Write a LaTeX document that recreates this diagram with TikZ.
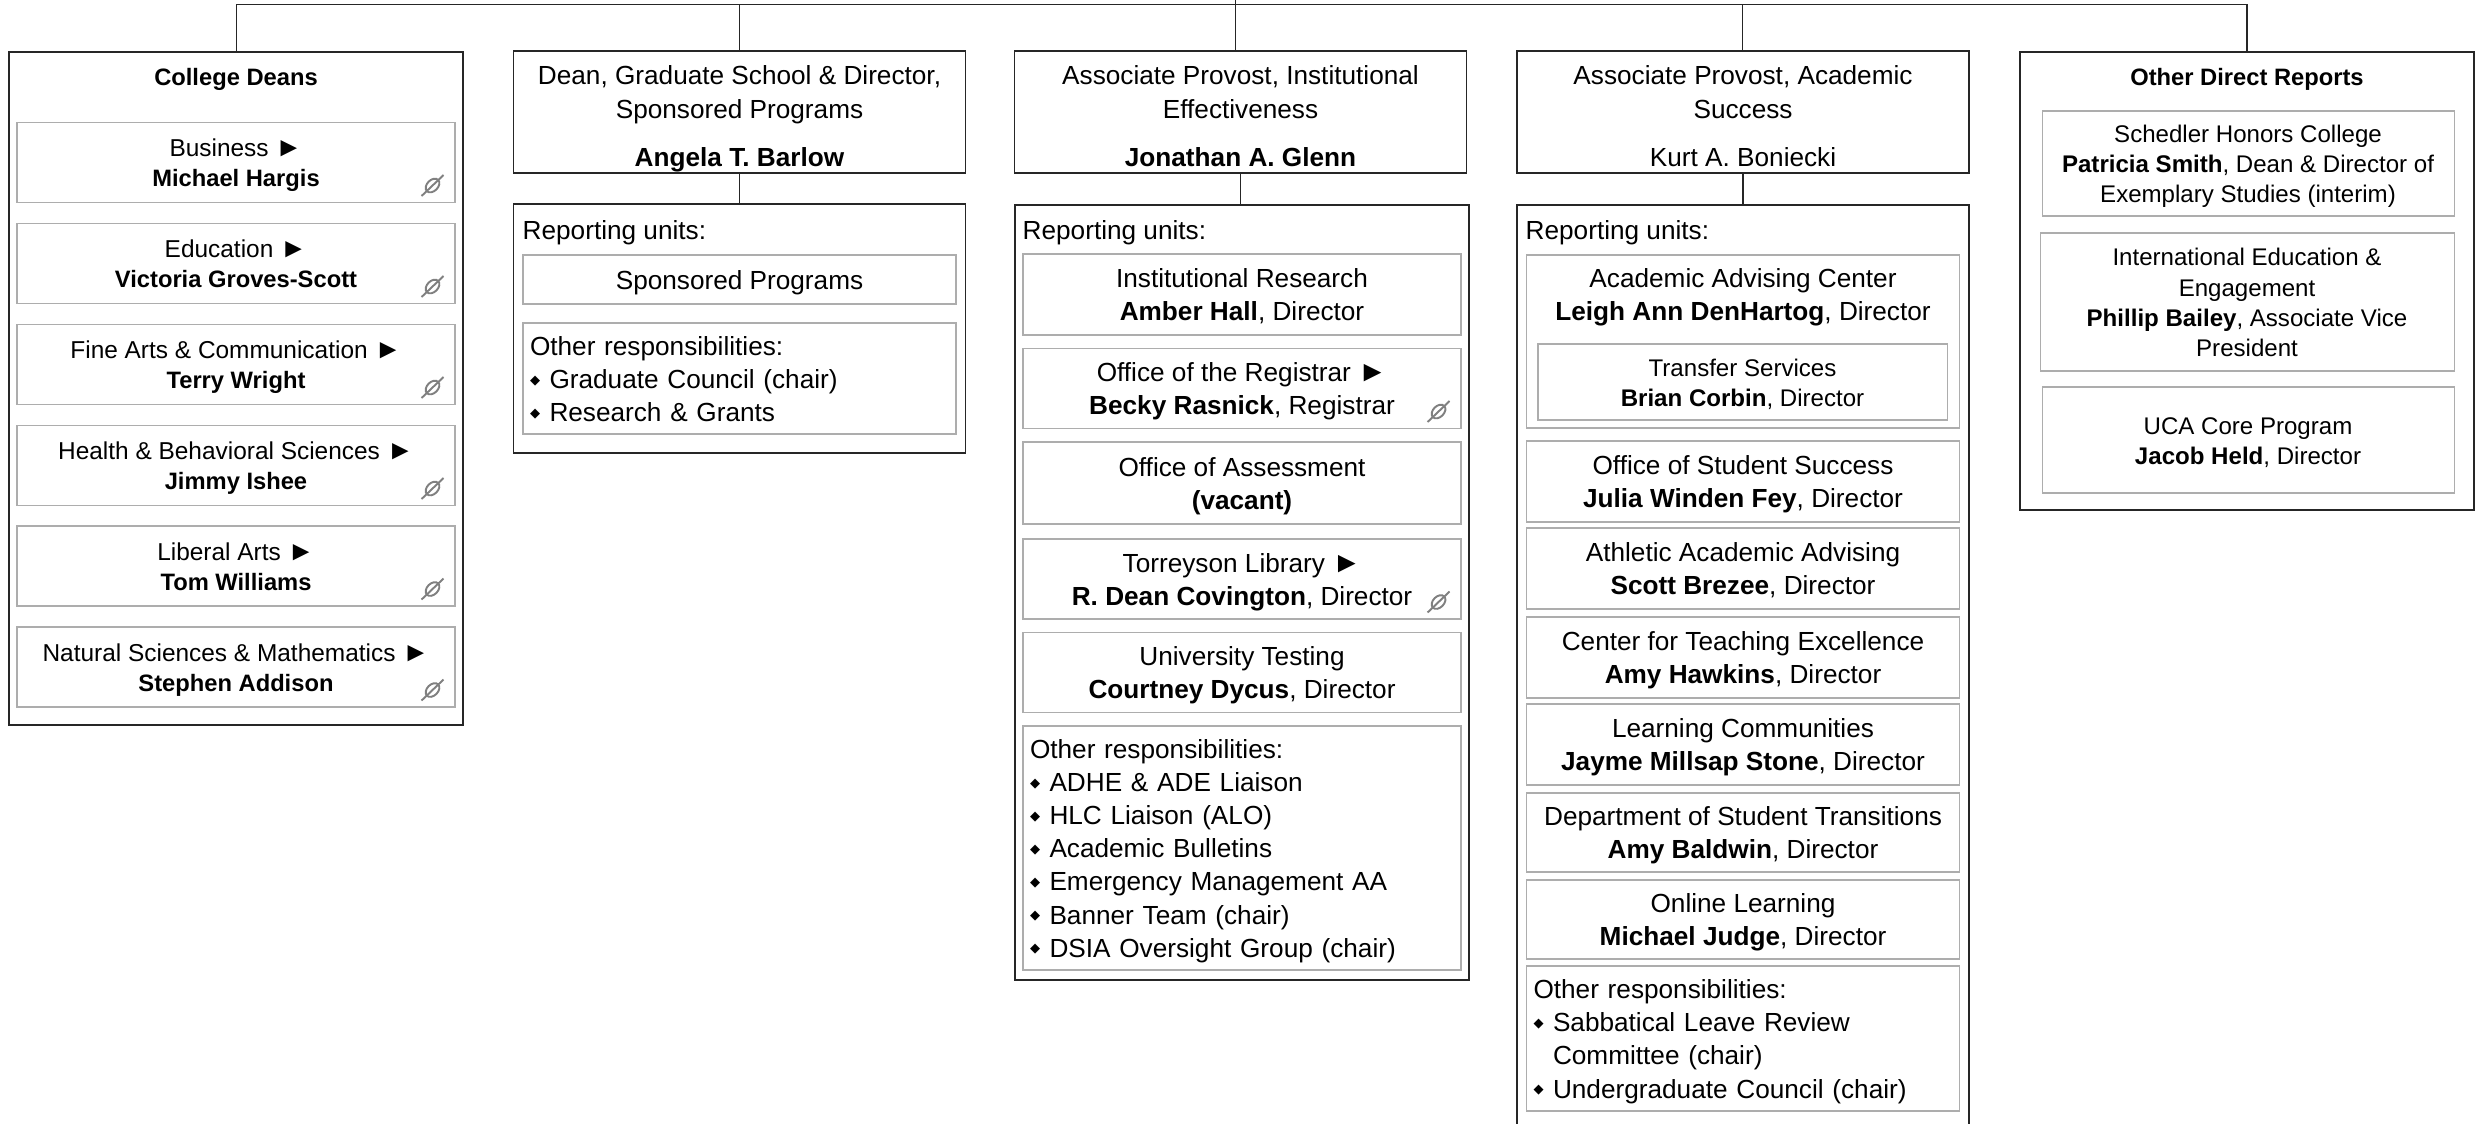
\documentclass[tikz,border=0pt]{standalone}
\usepackage{fontspec}
\setmainfont{Liberation Sans}
\newfontfamily\symfont{DejaVu Sans}
\usepackage{tikz}
\usetikzlibrary{positioning,calc}

\newcommand{\arr}{\scalebox{1.12}{►}}
\newcommand{\dia}{\raisebox{.17em}{\symfont\scalebox{0.5}{◆}}\hspace{0.36em}}
\newcommand{\fsA}{\fontsize{7.45}{9.4}\selectfont}
\newcommand{\fsB}{\fontsize{6.95}{8.5}\selectfont}
\newcommand{\fsC}{\fontsize{6.85}{8.6}\selectfont}
\newcommand{\deanname}[1]{{\fontsize{6.75}{8.5}\selectfont\bfseries #1}}

\tikzset{
    outerbox/.style={draw=black!85, line width=0.4pt, inner sep=0pt},
    textpad/.style={execute at begin node={\rule{0pt}{1em}}, execute at end node={\rule[-.24em]{0pt}{.24em}}},
    headbox/.style={outerbox, align=flush center, font=\fsA, text width=4.4cm, minimum width=4.52cm, minimum height=1.2cm,
        execute at begin node={\rule{0pt}{1.3em}}, execute at end node={\rule[-.25em]{0pt}{.25em}}},
    unitbox/.style={draw=black!32, line width=0.3pt, inner sep=0pt, align=flush center, font=\fsA, text width=4.05cm, textpad},
    deanbox/.style={unitbox, font=\fsB, minimum width=4.38cm, minimum height=.8cm},
    listbox/.style={unitbox, align=left, font=\fsA},
    caption/.style={inner sep=0pt, font=\fsA},
    linkicon/.pic={
        \draw[black!50, line width=0.55pt, rotate=45] (0,0) ellipse (0.08 and 0.055);
        \draw[black!50, line width=0.55pt] (-0.11,-0.105) -- (0.11,0.105);
    }
}

\begin{document}
\begin{tikzpicture}
    \useasboundingbox (0,0) rectangle (24.86,-11.23);

    % Top bus
    \coordinate (top) at (12.355,0);
    \coordinate (busA) at (2.365,-0.045);
    \coordinate (busB) at (7.395,-0.045);
    \coordinate (busC) at (12.355,-0.045);
    \coordinate (busD) at (17.425,-0.045);
    \coordinate (busE) at (22.47,-0.045);

    % College deans
    \node[outerbox, minimum width=4.54cm, minimum height=6.73cm] (deans) at (2.36,-3.885) {};
    \node[inner sep=0pt, font=\fontsize{6.75}{8.5}\selectfont\bfseries] (deanstitle) at (2.36,-0.79) {College Deans};
    \node[deanbox] (business) at (2.36,-1.625) {Business \arr\\\deanname{Michael Hargis}};
    \node[deanbox] (education) at (2.36,-2.635) {Education \arr\\\deanname{Victoria Groves-Scott}};
    \node[deanbox] (finearts) at (2.36,-3.645) {Fine Arts \& Communication \arr\\\deanname{Terry Wright}};
    \node[deanbox] (health) at (2.36,-4.655) {Health \& Behavioral Sciences \arr\\\deanname{Jimmy Ishee}};
    \node[deanbox] (liberal) at (2.36,-5.66) {Liberal Arts \arr\\\deanname{Tom Williams}};
    \node[deanbox] (natural) at (2.36,-6.67) {Natural Sciences \& Mathematics \arr\\\deanname{Stephen Addison}};

    % Graduate school
    \node[headbox] (barlow) at (7.395,-1.12) {Dean, Graduate School \& Director,\\[.2pt]Sponsored Programs\\[4.2pt]\textbf{Angela T. Barlow}};
    \node[outerbox, minimum width=4.52cm, minimum height=2.49cm] (barlowunits) at (7.395,-3.285) {};
    \node[caption, anchor=west] (barlowcap) at (5.22,-2.33) {Reporting units:};
    \node[unitbox, minimum width=4.33cm, minimum height=.49cm] (sponsored) at (7.395,-2.795) {Sponsored Programs};
    \node[listbox, minimum width=4.33cm, minimum height=1.11cm, text width=4.19cm] (barlowother) at (7.395,-3.785) {Other responsibilities:\\\dia Graduate Council (chair)\\\dia Research \& Grants};

    % Institutional effectiveness
    \node[headbox] (glenn) at (12.405,-1.12) {Associate Provost, Institutional\\[.2pt]Effectiveness\\[4.2pt]\textbf{Jonathan A. Glenn}};
    \node[outerbox, minimum width=4.54cm, minimum height=7.75cm] (glennunits) at (12.42,-5.925) {};
    \node[caption, anchor=west] (glenncap) at (10.22,-2.33) {Reporting units:};
    \node[unitbox, minimum width=4.38cm, minimum height=.81cm] (research) at (12.42,-2.945) {Institutional Research\\\textbf{Amber Hall}, Director};
    \node[unitbox, minimum width=4.38cm, minimum height=.8cm] (registrar) at (12.42,-3.885) {Office of the Registrar \arr\\\textbf{Becky Rasnick}, Registrar};
    \node[unitbox, minimum width=4.38cm, minimum height=.82cm] (assessment) at (12.42,-4.83) {Office of Assessment\\\textbf{(vacant)}};
    \node[unitbox, minimum width=4.38cm, minimum height=.8cm] (library) at (12.42,-5.79) {Torreyson Library \arr\\\textbf{R. Dean Covington}, Director};
    \node[unitbox, minimum width=4.38cm, minimum height=.8cm] (testing) at (12.42,-6.725) {University Testing\\\textbf{Courtney Dycus}, Director};
    \node[listbox, minimum width=4.38cm, minimum height=2.44cm, text width=4.24cm] (glennother) at (12.42,-8.48) {Other responsibilities:\\\dia ADHE \& ADE Liaison\\\dia HLC Liaison (ALO)\\\dia Academic Bulletins\\\dia Emergency Management AA\\\dia Banner Team (chair)\\\dia DSIA Oversight Group (chair)};

    % Academic success
    \node[headbox] (boniecki) at (17.43,-1.12) {Associate Provost, Academic\\[.2pt]Success\\[4.2pt]Kurt A. Boniecki};
    \node[outerbox, minimum width=4.52cm, minimum height=9.3cm] (bonieckiunits) at (17.43,-6.7) {};
    \node[caption, anchor=west] (bonieckicap) at (15.25,-2.33) {Reporting units:};
    \node[unitbox, minimum width=4.33cm, minimum height=1.73cm, execute at end node={\rule[-29pt]{0pt}{29pt}}] (advising) at (17.43,-3.415) {Academic Advising Center\\\textbf{Leigh Ann DenHartog}, Director};
    \node[unitbox, font=\fsC, minimum width=4.09cm, minimum height=.76cm] (transfer) at (17.425,-3.82) {Transfer Services\\\textbf{Brian Corbin}, Director};
    \node[unitbox, minimum width=4.33cm, minimum height=.81cm] (success) at (17.43,-4.815) {Office of Student Success\\\textbf{Julia Winden Fey}, Director};
    \node[unitbox, minimum width=4.33cm, minimum height=.81cm] (athletic) at (17.43,-5.685) {Athletic Academic Advising\\\textbf{Scott Brezee}, Director};
    \node[unitbox, minimum width=4.33cm, minimum height=.81cm] (teaching) at (17.43,-6.575) {Center for Teaching Excellence\\\textbf{Amy Hawkins}, Director};
    \node[unitbox, minimum width=4.33cm, minimum height=.81cm] (communities) at (17.43,-7.445) {Learning Communities\\\textbf{Jayme Millsap Stone}, Director};
    \node[unitbox, minimum width=4.33cm, minimum height=.79cm] (transitions) at (17.43,-8.325) {Department of Student Transitions\\\textbf{Amy Baldwin}, Director};
    \node[unitbox, minimum width=4.33cm, minimum height=.79cm] (online) at (17.43,-9.195) {Online Learning\\\textbf{Michael Judge}, Director};
    \node[listbox, minimum width=4.33cm, minimum height=1.45cm, text width=4.19cm] (bonieckiother) at (17.43,-10.385) {Other responsibilities:\\\dia Sabbatical Leave Review\\\phantom{\dia}Committee (chair)\\\dia Undergraduate Council (chair)};

    % Other direct reports
    \node[outerbox, minimum width=4.54cm, minimum height=4.58cm] (others) at (22.47,-2.81) {};
    \node[inner sep=0pt, font=\fontsize{6.75}{8.5}\selectfont\bfseries] (otherstitle) at (22.47,-0.79) {Other Direct Reports};
    \node[unitbox, font=\fsC, minimum width=4.12cm, minimum height=1.05cm] (honors) at (22.48,-1.635) {Schedler Honors College\\\textbf{Patricia Smith}, Dean \& Director of\\Exemplary Studies (interim)};
    \node[unitbox, font=\fsC, minimum width=4.14cm, minimum height=1.38cm] (intl) at (22.47,-3.02) {International Education \&\\Engagement\\\textbf{Phillip Bailey}, Associate Vice\\President};
    \node[unitbox, font=\fsC, minimum width=4.12cm, minimum height=1.06cm] (core) at (22.48,-4.4) {UCA Core Program\\\textbf{Jacob Held}, Director};

    % Connectors
    \draw[outerbox] (busA) -- (busE);
    \draw[outerbox] (top) -- (busC);
    \draw[outerbox] (busA) -- (busA |- deans.north);
    \draw[outerbox] (busB) -- (busB |- barlow.north);
    \draw[outerbox] (busC) -- (busC |- glenn.north);
    \draw[outerbox] (busD) -- (busD |- boniecki.north);
    \draw[outerbox] (busE) -- (busE |- others.north);
    \draw[outerbox] (barlow.south) -- (barlowunits.north);
    \draw[outerbox] (glenn.south) -- (glenn.south |- glennunits.north);
    \draw[outerbox] (boniecki.south) -- (bonieckiunits.north);

    % Link icons
    \foreach \n in {business,education,finearts,health,liberal,natural,registrar,library}
        \pic at ($(\n.south east)+(-0.23,0.175)$) {linkicon};
\end{tikzpicture}
\end{document}
